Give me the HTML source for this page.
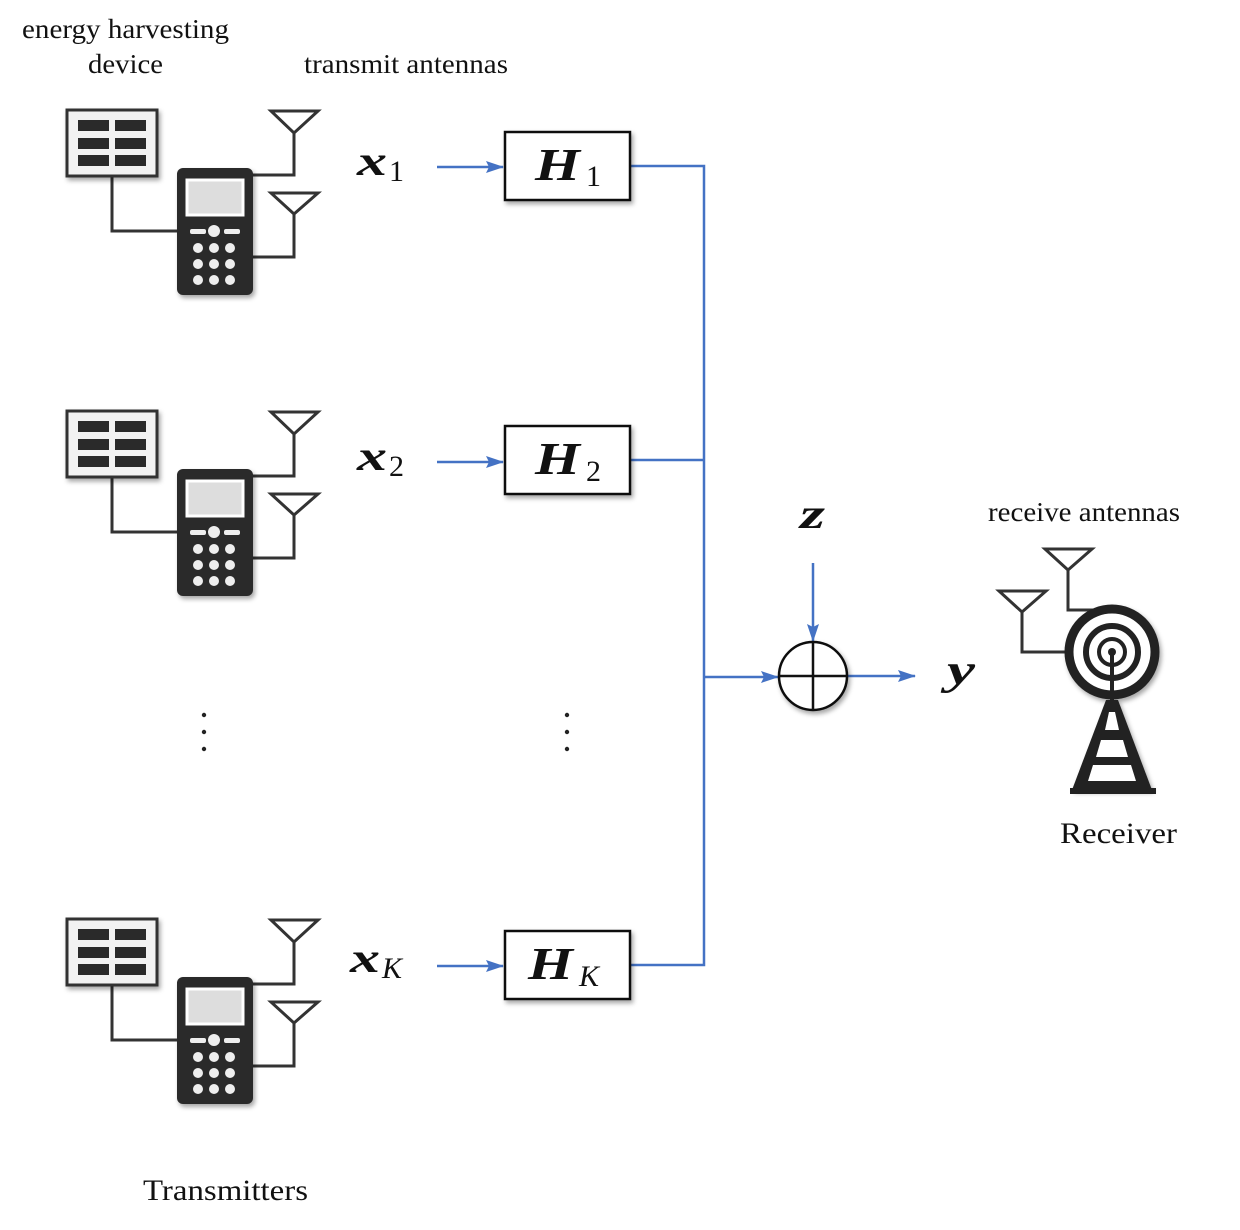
<!DOCTYPE html>
<html><head><meta charset="utf-8"><style>
html,body{margin:0;padding:0;background:#fff;}
svg{display:block;}
text{font-family:"Liberation Serif",serif;fill:#111;}
.m{font-style:italic;font-weight:bold;}
</style></head><body>
<svg width="1240" height="1230" viewBox="0 0 1240 1230" xmlns="http://www.w3.org/2000/svg">
<defs>
<marker id="ar" markerWidth="18" markerHeight="12" refX="17" refY="6" orient="auto" markerUnits="userSpaceOnUse">
<path d="M0,0 L18,6 L0,12 L3,6 Z" fill="#4472c4"/></marker>
<filter id="sh" x="-20%" y="-20%" width="140%" height="140%"><feDropShadow dx="2" dy="3" stdDeviation="2.5" flood-color="#000" flood-opacity="0.35"/></filter>
<g id="tx">
<g fill="none" stroke="#333" stroke-width="3">
<path d="M112,176 V231 H180"/>
<path d="M250,175 H294 V133"/>
<path d="M250,257 H294 V214"/>
<path d="M271,111 H318 L294,133 Z"/>
<path d="M271,193 H318 L294,214 Z"/>
</g>
<g filter="url(#sh)">
<rect x="67" y="110" width="90" height="66" fill="#f2f2f2" stroke="#333" stroke-width="3"/>
<rect x="78" y="120" width="31" height="11" fill="#2a2a2a"/><rect x="115" y="120" width="31" height="11" fill="#2a2a2a"/>
<rect x="78" y="138" width="31" height="11" fill="#2a2a2a"/><rect x="115" y="138" width="31" height="11" fill="#2a2a2a"/>
<rect x="78" y="155" width="31" height="11" fill="#2a2a2a"/><rect x="115" y="155" width="31" height="11" fill="#2a2a2a"/>
<rect x="177" y="168" width="76" height="127" rx="6" fill="#2a2a2a"/>
</g>
<rect x="187" y="180" width="56" height="35" fill="#ddd" stroke="#fff" stroke-width="3"/>
<rect x="190" y="229" width="16" height="5" rx="2" fill="#eee"/>
<rect x="224" y="229" width="16" height="5" rx="2" fill="#eee"/>
<circle cx="214" cy="231" r="6" fill="#eee"/>
<g fill="#eee">
<circle cx="198" cy="248" r="5"/><circle cx="214" cy="248" r="5"/><circle cx="230" cy="248" r="5"/>
<circle cx="198" cy="264" r="5"/><circle cx="214" cy="264" r="5"/><circle cx="230" cy="264" r="5"/>
<circle cx="198" cy="280" r="5"/><circle cx="214" cy="280" r="5"/><circle cx="230" cy="280" r="5"/>
</g>
</g>
</defs>

<text x="22" y="38" font-size="27" textLength="207" lengthAdjust="spacingAndGlyphs">energy harvesting</text>
<text x="88" y="73" font-size="27" textLength="75" lengthAdjust="spacingAndGlyphs">device</text>
<text x="304" y="73" font-size="27" textLength="204" lengthAdjust="spacingAndGlyphs">transmit antennas</text>

<use href="#tx"/>
<use href="#tx" y="301"/>
<use href="#tx" y="809"/>

<g fill="#222"><circle cx="204" cy="715" r="2.2"/><circle cx="204" cy="732" r="2.2"/><circle cx="204" cy="749" r="2.2"/>
<circle cx="567" cy="715" r="2.2"/><circle cx="567" cy="732" r="2.2"/><circle cx="567" cy="749" r="2.2"/></g>

<text x="357" y="175" font-size="42" class="m" textLength="30" lengthAdjust="spacingAndGlyphs">x</text><text x="389" y="181" font-size="30">1</text>
<text x="357" y="470" font-size="42" class="m" textLength="30" lengthAdjust="spacingAndGlyphs">x</text><text x="389" y="476" font-size="30">2</text>
<text x="350" y="972" font-size="42" class="m" textLength="30" lengthAdjust="spacingAndGlyphs">x</text><text x="382" y="978" font-size="30" font-style="italic">K</text>

<g stroke="#4472c4" stroke-width="2.5" fill="none">
<line x1="437" y1="167" x2="503" y2="167" marker-end="url(#ar)"/>
<line x1="437" y1="462" x2="503" y2="462" marker-end="url(#ar)"/>
<line x1="437" y1="966" x2="503" y2="966" marker-end="url(#ar)"/>
<path d="M630,166 H704 V965 H630"/>
<path d="M630,460 H704"/>
<line x1="704" y1="677" x2="778" y2="677" marker-end="url(#ar)"/>
<line x1="813" y1="563" x2="813" y2="641" marker-end="url(#ar)"/>
<line x1="848" y1="676" x2="915" y2="676" marker-end="url(#ar)"/>
</g>

<g filter="url(#sh)" stroke="#111" stroke-width="2.5" fill="#fff">
<rect x="505" y="132" width="125" height="68"/>
<rect x="505" y="426" width="125" height="68"/>
<rect x="505" y="931" width="125" height="68"/>
<circle cx="813" cy="676" r="34"/>
</g>
<path d="M779,676 H847 M813,642 V710" stroke="#111" stroke-width="2.5"/>

<text x="535" y="180" font-size="46" class="m" textLength="45" lengthAdjust="spacingAndGlyphs">H</text><text x="586" y="186" font-size="30">1</text>
<text x="535" y="474" font-size="46" class="m" textLength="45" lengthAdjust="spacingAndGlyphs">H</text><text x="586" y="481" font-size="30">2</text>
<text x="528" y="979" font-size="46" class="m" textLength="45" lengthAdjust="spacingAndGlyphs">H</text><text x="579" y="986" font-size="30" font-style="italic">K</text>

<text x="800" y="528" font-size="42" class="m" textLength="25" lengthAdjust="spacingAndGlyphs">z</text>
<text x="947" y="684" font-size="42" class="m" textLength="28" lengthAdjust="spacingAndGlyphs">y</text>

<text x="988" y="521" font-size="27" textLength="192" lengthAdjust="spacingAndGlyphs">receive antennas</text>
<g fill="none" stroke="#333" stroke-width="3">
<path d="M1045,549 H1092 L1068,570 Z"/><path d="M1068,570 V610 H1110"/>
<path d="M999,591 H1046 L1022,612 Z"/><path d="M1022,612 V652 H1068"/>
</g>
<g filter="url(#sh)">
<circle cx="1112" cy="652" r="43" fill="#fff" stroke="#222" stroke-width="9"/>
<path d="M1106,700 L1118,700 L1152,790 L1072,790 Z" fill="#222"/>
</g>
<circle cx="1112" cy="652" r="26" fill="none" stroke="#222" stroke-width="6"/>
<circle cx="1112" cy="652" r="13" fill="none" stroke="#222" stroke-width="4"/>
<circle cx="1112" cy="652" r="4" fill="#222"/>
<line x1="1112" y1="652" x2="1112" y2="700" stroke="#222" stroke-width="4"/>
<g fill="#fff"><path d="M1109,712 L1115,712 L1119,730 L1105,730 Z"/>
<path d="M1101,740 L1123,740 L1128,757 L1096,757 Z"/>
<path d="M1093,765 L1131,765 L1136,781 L1088,781 Z"/></g>
<rect x="1070" y="788" width="86" height="6" fill="#222"/>
<text x="1060" y="843" font-size="30" textLength="117" lengthAdjust="spacingAndGlyphs">Receiver</text>
<text x="143" y="1200" font-size="30" textLength="165" lengthAdjust="spacingAndGlyphs">Transmitters</text>
</svg>
</body></html>
